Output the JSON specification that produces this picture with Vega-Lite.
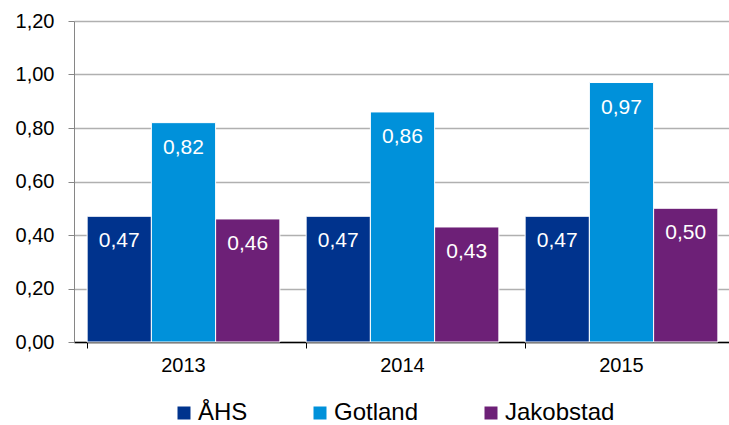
{
  "$schema": "https://vega.github.io/schema/vega-lite/v6.json",
  "autosize": "none",
  "width": 657,
  "height": 321,
  "padding": {"left": 74, "top": 21, "right": 0, "bottom": 83},
  "background": "white",
  "config": {
    "locale": {"number": {"decimal": ",", "thousands": " ", "grouping": [3], "currency": ["", " kr"]}},
    "font": "Liberation Sans",
    "view": {"stroke": null}
  },
  "data": {
    "values": [
      {"year": "2013", "series": "ÅHS", "value": 0.47},
      {"year": "2013", "series": "Gotland", "value": 0.82},
      {"year": "2013", "series": "Jakobstad", "value": 0.46},
      {"year": "2014", "series": "ÅHS", "value": 0.47},
      {"year": "2014", "series": "Gotland", "value": 0.86},
      {"year": "2014", "series": "Jakobstad", "value": 0.43},
      {"year": "2015", "series": "ÅHS", "value": 0.47},
      {"year": "2015", "series": "Gotland", "value": 0.97},
      {"year": "2015", "series": "Jakobstad", "value": 0.50}
    ]
  },
  "encoding": {
    "x": {
      "field": "year", "type": "nominal",
      "scale": {"paddingInner": 0.12, "paddingOuter": 0.06},
      "axis": {
        "title": null, "labelAngle": 0, "labelFontSize": 20, "labelColor": "#000000",
        "labelPadding": 7, "domainColor": "#000000", "domainWidth": 1.3,
        "tickColor": "#000000", "tickSize": 6, "bandPosition": 0, "grid": false
      }
    },
    "xOffset": {"field": "series", "type": "nominal", "sort": ["ÅHS", "Gotland", "Jakobstad"]},
    "y": {
      "field": "value", "type": "quantitative",
      "scale": {"domain": [0, 1.2], "nice": false},
      "axis": {
        "title": null, "values": [0, 0.2, 0.4, 0.6, 0.8, 1.0, 1.2], "format": ".2f",
        "labelFontSize": 20, "labelColor": "#000000", "labelPadding": 14,
        "domainColor": "#868686", "tickColor": "#868686", "tickSize": 6,
        "gridColor": "#B0B0B0", "gridWidth": 1.3
      }
    }
  },
  "layer": [
    {
      "mark": {"type": "bar", "stroke": "white", "strokeWidth": 1},
      "encoding": {
        "color": {
          "field": "series", "type": "nominal",
          "scale": {"domain": ["ÅHS", "Gotland", "Jakobstad"], "range": ["#00338D", "#0091DA", "#6D2077"]},
          "legend": {
            "title": null, "orient": "none", "legendX": 98, "legendY": 380,
            "direction": "horizontal",
            "symbolType": "square", "symbolSize": 169, "symbolStrokeWidth": 0,
            "labelFontSize": 24, "labelColor": "#000000", "columnPadding": 60,
            "labelOffset": 2
          }
        }
      }
    },
    {
      "mark": {"type": "text", "color": "white", "fontSize": 21, "dy": 25, "baseline": "middle"},
      "encoding": {
        "text": {"field": "value", "type": "quantitative", "format": ".2f"}
      }
    }
  ]
}
